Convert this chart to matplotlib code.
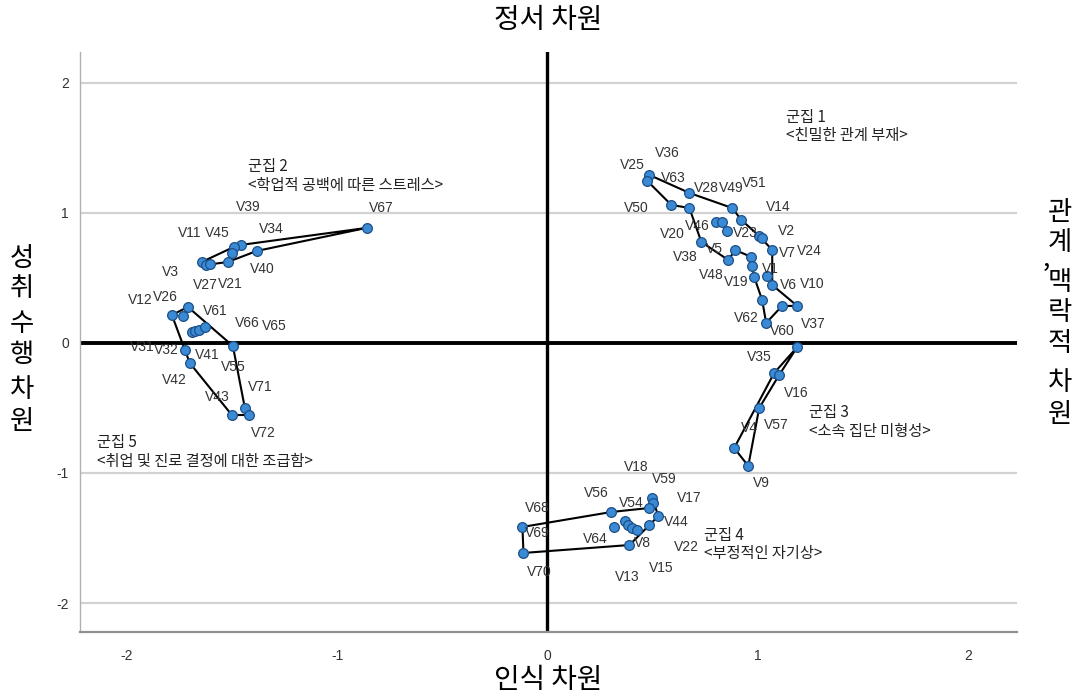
import matplotlib
matplotlib.use("Agg")
import matplotlib.pyplot as plt

plt.rcParams['axes.unicode_minus'] = False
KFONT = ['Noto Sans CJK KR', 'DejaVu Sans']
LFONT = ['Liberation Sans Narrow', 'Liberation Sans', 'DejaVu Sans']

# ---------------- data (MDS coordinates) ----------------
c1_x = [0.485, 0.475, 0.675, 0.589, 0.675, 0.879, 0.922, 0.803, 0.831, 0.855, 1.007, 1.021, 1.069,
        0.732, 0.893, 0.860, 0.969, 0.974, 1.045, 0.983, 1.069, 1.021, 1.116, 1.188, 1.040]
c1_y = [1.292, 1.246, 1.154, 1.062, 1.038, 1.038, 0.946, 0.931, 0.931, 0.862, 0.823, 0.808, 0.715,
        0.777, 0.715, 0.638, 0.662, 0.592, 0.515, 0.508, 0.446, 0.331, 0.285, 0.285, 0.154]
c1_hull = [0, 2, 5, 6, 10, 12, 20, 23, 22, 24, 21, 19, 17, 16, 14, 15, 13, 4, 3, 1, 0]

c2_x = [-0.860, -1.458, -1.492, -1.501, -1.382, -1.520, -1.644, -1.625, -1.606]
c2_y = [0.885, 0.754, 0.738, 0.692, 0.708, 0.623, 0.623, 0.600, 0.608]
c2_hull = [0, 1, 2, 6, 7, 5, 4, 0]

c3_x = [1.188, 1.078, 1.102, 1.007, 0.888, 0.955]
c3_y = [-0.031, -0.231, -0.246, -0.500, -0.808, -0.946]
c3_hull = [0, 1, 4, 5, 3, 2, 0]

c4_x = [0.499, 0.504, 0.485, 0.527, 0.485, 0.304, 0.318, 0.371, 0.385, 0.404, 0.428, 0.390, -0.119, -0.114]
c4_y = [-1.192, -1.231, -1.269, -1.331, -1.400, -1.300, -1.415, -1.369, -1.400, -1.423, -1.438, -1.554,
        -1.415, -1.615]
c4_hull = [12, 5, 2, 0, 3, 4, 11, 13, 12]

c5_x = [-1.786, -1.734, -1.710, -1.691, -1.677, -1.658, -1.629, -1.496, -1.724, -1.701, -1.439, -1.420, -1.501]
c5_y = [0.215, 0.208, 0.277, 0.085, 0.092, 0.100, 0.123, -0.023, -0.054, -0.154, -0.500, -0.554, -0.554]
c5_hull = [0, 2, 7, 10, 11, 12, 9, 8, 0]

clusters = [(c1_x, c1_y, c1_hull), (c2_x, c2_y, c2_hull), (c3_x, c3_y, c3_hull),
            (c4_x, c4_y, c4_hull), (c5_x, c5_y, c5_hull)]

# point label names and text anchor positions
var_names = ['V36', 'V25', 'V63', 'V28', 'V49', 'V51', 'V14', 'V50', 'V46', 'V23', 'V2', 'V20', 'V7',
             'V24', 'V38', 'V5', 'V1', 'V48', 'V19', 'V6', 'V10', 'V62', 'V60', 'V37',
             'V39', 'V67', 'V11', 'V45', 'V34', 'V3', 'V40', 'V27', 'V21',
             'V12', 'V26', 'V61', 'V66', 'V65', 'V31', 'V32', 'V41', 'V55', 'V42', 'V71', 'V43', 'V72',
             'V35', 'V16', 'V57', 'V4', 'V9',
             'V18', 'V59', 'V17', 'V56', 'V54', 'V44', 'V68', 'V69', 'V64', 'V8', 'V22', 'V70', 'V13', 'V15']
var_lx = [0.570, 0.404, 0.599, 0.755, 0.874, 0.983, 1.097, 0.423, 0.713, 0.941, 1.135, 0.594, 1.140,
          1.245, 0.656, 0.793, 1.059, 0.779, 0.898, 1.145, 1.259, 0.945, 1.116, 1.264,
          -1.425, -0.789, -1.701, -1.572, -1.311, -1.791, -1.354, -1.625, -1.506,
          -1.938, -1.815, -1.582, -1.425, -1.297, -1.929, -1.810, -1.620, -1.496, -1.772, -1.368, -1.572, -1.349,
          1.007, 1.183, 1.088, 0.960, 1.017,
          0.423, 0.556, 0.675, 0.233, 0.399, 0.613, -0.048, -0.048, 0.228, 0.451, 0.660, -0.038, 0.380, 0.542]
var_ly = [1.462, 1.369, 1.269, 1.192, 1.192, 1.231, 1.046, 1.038, 0.900, 0.846, 0.862, 0.838, 0.692,
          0.708, 0.662, 0.723, 0.569, 0.523, 0.469, 0.446, 0.454, 0.192, 0.092, 0.146,
          1.046, 1.038, 0.846, 0.846, 0.877, 0.546, 0.569, 0.446, 0.454,
          0.331, 0.354, 0.246, 0.154, 0.131, -0.031, -0.054, -0.092, -0.185, -0.285, -0.338, -0.415, -0.692,
          -0.108, -0.385, -0.631, -0.654, -1.077,
          -0.954, -1.046, -1.192, -1.154, -1.231, -1.377, -1.269, -1.462, -1.508, -1.538, -1.569, -1.762,
          -1.800, -1.731]

cluster_titles = ['군집 1', '군집 2', '군집 3', '군집 4', '군집 5']
cluster_descs = ['<친밀한 관계 부재>', '<학업적 공백에 따른 스트레스>', '<소속 집단 미형성>',
                 '<부정적인 자기상>', '<취업 및 진로 결정에 대한 조급함>']
cluster_tx = [1.135, -1.425, 1.245, 0.746, -2.143]
cluster_ty = [1.738, 1.354, -0.538, -1.477, -0.769]

x_ticks = [-2, -1, 0, 1, 2]
y_ticks = [-2, -1, 0, 1, 2]

# ---------------- figure ----------------
fig = plt.figure(figsize=(10.79, 6.96), dpi=100)
ax = fig.add_axes([80 / 1079, 1 - 632 / 696, (1017 - 80) / 1079, (632 - 52) / 696])
ax.set_xlim(-2.223, 2.233)
ax.set_ylim(-2.223, 2.238)

for t in y_ticks:
    if t != 0:
        ax.axhline(t, color='#d2d2d2', lw=1.6, zorder=0)
ax.axhline(0, color='black', lw=2.8, zorder=1)
ax.axvline(0, color='black', lw=2.4, zorder=1)

for xs, ys, hull in clusters:
    ax.plot([xs[i] for i in hull], [ys[i] for i in hull], color='black', lw=1.5, zorder=2)
    ax.plot(xs, ys, 'o', ms=7, mfc='#3a8ad6', mec='#1d4f86', mew=0.9, zorder=3)

for n, lx, ly in zip(var_names, var_lx, var_ly):
    ax.text(lx, ly, n, ha='center', va='center', fontsize=10, color='#333333', family=LFONT, zorder=4)

for t, d, tx, ty in zip(cluster_titles, cluster_descs, cluster_tx, cluster_ty):
    ax.text(tx, ty, t, ha='left', va='center', fontsize=11, color='#222222', family=KFONT)
    ax.text(tx, ty - 0.142, d, ha='left', va='center', fontsize=11, color='#222222', family=KFONT)

ax.set_xticks(x_ticks)
ax.set_yticks(y_ticks)
ax.set_xticklabels([str(v) for v in x_ticks], family=LFONT, fontsize=10, color='#333333')
ax.set_yticklabels([str(v) for v in y_ticks], family=LFONT, fontsize=10, color='#333333')
ax.tick_params(axis='both', length=0)
ax.tick_params(axis='x', pad=12)
ax.tick_params(axis='y', pad=8)
for s in ['top', 'right']:
    ax.spines[s].set_visible(False)
ax.spines['left'].set_color('#b0b0b0')
ax.spines['left'].set_linewidth(1.0)
ax.spines['bottom'].set_color('#909090')
ax.spines['bottom'].set_linewidth(1.6)

# axis titles
fig.text(548 / 1079, 1 - 20 / 696, '정서 차원', ha='center', va='center', fontsize=20, family=KFONT)
fig.text(548 / 1079, 1 - 680 / 696, '인식 차원', ha='center', va='center', fontsize=20, family=KFONT)


def vertical(text, xpix, ypix_start, pitch=30, gap=12):
    y = ypix_start
    for ch in text:
        if ch == ' ':
            y += gap
            continue
        if ch == ',':
            fig.text((xpix - 14) / 1079, 1 - (y - 16) / 696, ',', ha='center', va='center',
                     fontsize=19, family=KFONT)
            continue
        fig.text(xpix / 1079, 1 - y / 696, ch, ha='center', va='center', fontsize=19, family=KFONT)
        y += pitch


vertical('성취 수행 차원', 22, 258, pitch=31, gap=4)
vertical('관계, 맥락적 차원', 1060, 212, pitch=31, gap=8)

fig.savefig('out.png', dpi=100)
